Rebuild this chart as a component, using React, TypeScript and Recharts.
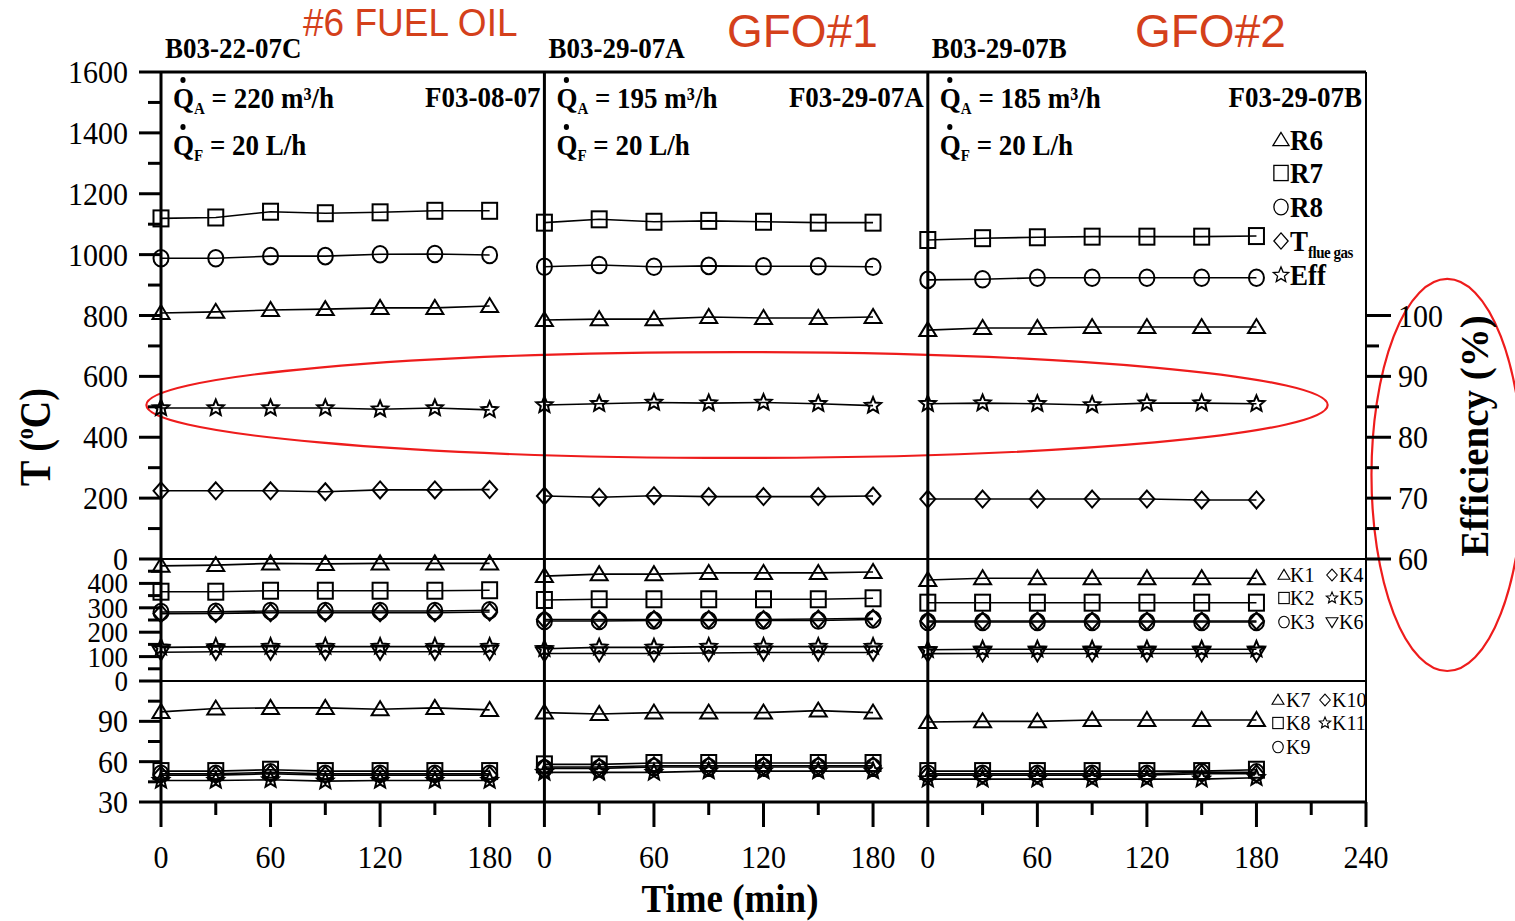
import React from 'react';
import { ComposedChart, Line, XAxis, YAxis, ReferenceLine, ReferenceArea } from 'recharts';

const W = 1515;
const H = 921;
const SERIF = '"Liberation Serif", "Times New Roman", serif';
const SANS = '"Liberation Sans", Arial, sans-serif';
const RED = '#d4401b';
const ELLIPSE = '#ee1c1c';

// each run is 0-180 min, runs are laid 210 min apart on one time axis
const times = [0, 30, 60, 90, 120, 150, 180];
const panelOffsets = [0, 210, 420];
const runIds = ['B03-22-07C', 'B03-29-07A', 'B03-29-07B'];
const fuelNames = ['#6 FUEL OIL', 'GFO#1', 'GFO#2'];
const flameIds = ['F03-08-07', 'F03-29-07A', 'F03-29-07B'];
const airFlow = [220, 195, 185];
const fuelFlow = [20, 20, 20];

// top panel: temperatures (°C), efficiency (%)
const R6 = [
  [808, 812, 818, 821, 825, 825, 831],
  [785, 788, 788, 795, 792, 792, 795],
  [752, 759, 759, 762, 762, 762, 762],
];
const R7 = [
  [1119, 1122, 1141, 1136, 1139, 1144, 1144],
  [1105, 1116, 1108, 1111, 1108, 1105, 1105],
  [1048, 1054, 1057, 1059, 1059, 1059, 1061],
];
const R8 = [
  [988, 988, 995, 995, 1001, 1002, 999],
  [960, 966, 960, 963, 962, 962, 960],
  [917, 919, 924, 924, 924, 924, 924],
];
const Tflue = [
  [224, 224, 224, 221, 227, 227, 228],
  [207, 203, 208, 205, 205, 205, 207],
  [197, 197, 197, 197, 197, 194, 194],
];
const Eff = [
  [84.8, 84.8, 84.8, 84.8, 84.6, 84.8, 84.5],
  [85.3, 85.5, 85.7, 85.6, 85.7, 85.5, 85.2],
  [85.5, 85.6, 85.5, 85.3, 85.6, 85.6, 85.5],
];

// middle panel: K1-K6 (°C)
const K1 = [
  [472, 475, 482, 480, 482, 482, 482],
  [430, 438, 438, 443, 443, 443, 447],
  [414, 421, 421, 421, 421, 421, 421],
];
const K2 = [
  [366, 366, 370, 370, 370, 370, 372],
  [332, 335, 335, 335, 335, 335, 339],
  [321, 321, 321, 321, 321, 321, 321],
];
const K3 = [
  [283, 284, 287, 287, 287, 287, 290],
  [246, 246, 248, 248, 248, 248, 252],
  [242, 242, 242, 242, 242, 242, 242],
];
const K4 = [
  [276, 277, 280, 280, 280, 280, 283],
  [252, 252, 252, 252, 252, 254, 257],
  [246, 246, 246, 246, 246, 246, 246],
];
const K5 = [
  [138, 140, 141, 141, 141, 141, 141],
  [132, 138, 138, 141, 141, 141, 141],
  [128, 130, 130, 130, 130, 130, 130],
];
const K6 = [
  [118, 120, 120, 120, 120, 120, 120],
  [113, 113, 113, 115, 117, 117, 117],
  [112, 113, 113, 113, 113, 113, 113],
];

// bottom panel: K7-K11 (°C)
const K7 = [
  [97, 99.5, 100, 100, 99, 100, 98.5],
  [96.5, 95.5, 96.5, 96.5, 96.5, 98, 96.5],
  [89.5, 90, 90, 91, 91, 91, 91],
];
const K8 = [
  [53, 53, 54, 53, 53, 53, 53],
  [58, 58, 59, 59, 59, 59, 59],
  [53, 53, 53, 53, 53, 53, 54],
];
const K9 = [
  [51, 51, 52, 51, 51, 51, 51],
  [55, 55, 56, 56, 56, 56, 56],
  [51, 51, 51, 51, 51, 52, 52],
];
const K10 = [
  [50, 50, 51, 50, 50, 50, 50],
  [56, 56, 57, 57, 57, 57, 57],
  [50, 50, 50, 50, 50, 51, 51],
];
const K11 = [
  [46, 46, 46.5, 45.5, 46, 46, 46],
  [52, 52, 52, 53, 53, 53, 53],
  [47, 47, 47, 47, 47, 47, 48],
];

type Shape = 'tri' | 'dtri' | 'sq' | 'circ' | 'dia' | 'star';

function buildRows(series: Record<string, number[][]>) {
  const rows: Record<string, number>[] = [];
  panelOffsets.forEach((off, p) => {
    times.forEach((t, i) => {
      const row: Record<string, number> = { x: off + t };
      Object.keys(series).forEach((k) => {
        row[k] = series[k][p][i];
      });
      rows.push(row);
    });
    // empty row so the lines break between runs
    if (p < panelOffsets.length - 1) rows.push({ x: off + 195 });
  });
  return rows;
}

const topRows = buildRows({ R6, R7, R8, TF: Tflue, EFF: Eff });
const midRows = buildRows({ K1, K2, K3, K4, K5, K6 });
const botRows = buildRows({ K7, K8, K9, K10, K11 });

const xTicks = panelOffsets.flatMap((off, p) =>
  (p === panelOffsets.length - 1 ? [...times, 210, 240] : times).map((t) => off + t)
);

const Marker = ({ shape, cx, cy, k = 1, sw = 2 }: { shape: Shape; cx: number; cy: number; k?: number; sw?: number }) => {
  const common = { fill: 'none', stroke: '#000', strokeWidth: sw };
  switch (shape) {
    case 'tri':
      return <polygon {...common} points={`${cx},${cy - 8 * k} ${cx - 8.5 * k},${cy + 6 * k} ${cx + 8.5 * k},${cy + 6 * k}`} />;
    case 'dtri':
      return <polygon {...common} points={`${cx - 8.5 * k},${cy - 6 * k} ${cx + 8.5 * k},${cy - 6 * k} ${cx},${cy + 8 * k}`} />;
    case 'sq':
      return <rect {...common} x={cx - 7.5 * k} y={cy - 8 * k} width={15 * k} height={16 * k} />;
    case 'circ':
      return <ellipse {...common} cx={cx} cy={cy} rx={7.5 * k} ry={8.3 * k} />;
    case 'dia':
      return <polygon {...common} points={`${cx},${cy - 8.5 * k} ${cx + 7.5 * k},${cy} ${cx},${cy + 8.5 * k} ${cx - 7.5 * k},${cy}`} />;
    default: {
      const pts: string[] = [];
      for (let i = 0; i < 10; i++) {
        const a = (-90 + i * 36) * (Math.PI / 180);
        const r = (i % 2 ? 3.8 : 8.5) * k;
        pts.push(`${cx + r * Math.cos(a)},${cy + r * Math.sin(a)}`);
      }
      return <polygon {...common} points={pts.join(' ')} />;
    }
  }
};

const dotOf = (shape: Shape) => (props: any) => {
  const { cx, cy, index } = props;
  if (typeof cx !== 'number' || typeof cy !== 'number' || isNaN(cy)) return <g key={`d-${index}`} />;
  return (
    <g key={`d-${index}`}>
      <Marker shape={shape} cx={cx} cy={cy} />
    </g>
  );
};

const leftTick = (isMajor: (v: number) => boolean, hasLabel: (v: number) => boolean, size = 30) => (props: any) => {
  const { x, y, payload } = props;
  const v = payload.value;
  return (
    <g>
      <line x1={x - (isMajor(v) ? 22 : 13)} x2={x} y1={y} y2={y} stroke="#000" strokeWidth={3} />
      {hasLabel(v) && (
        <text
          transform={`translate(${x - 33},${y}) scale(1,1.08)`}
          dy="0.34em"
          textAnchor="end"
          fontFamily={SERIF}
          fontSize={size}
          fill="#000"
        >
          {v}
        </text>
      )}
    </g>
  );
};

const rightTick = (props: any) => {
  const { x, y, payload } = props;
  const v = payload.value;
  const major = v % 10 === 0;
  return (
    <g>
      <line x1={x} x2={x + (major ? 25 : 13)} y1={y} y2={y} stroke="#000" strokeWidth={3} />
      {major && (
        <text
          transform={`translate(${x + 32},${y}) scale(1,1.08)`}
          dy="0.34em"
          textAnchor="start"
          fontFamily={SERIF}
          fontSize={30}
          fill="#000"
        >
          {v}
        </text>
      )}
    </g>
  );
};

const timeTick = (props: any) => {
  const { x, y, payload } = props;
  const v = payload.value;
  const p = v >= panelOffsets[2] ? 2 : v >= panelOffsets[1] ? 1 : 0;
  const t = v - panelOffsets[p];
  const major = t % 60 === 0;
  return (
    <g>
      <line x1={x} x2={x} y1={y} y2={y + (major ? 25 : 13)} stroke="#000" strokeWidth={3} />
      {major && (
        <text
          transform={`translate(${x},${y + 66}) scale(1,1.08)`}
          textAnchor="middle"
          fontFamily={SERIF}
          fontSize={30}
          fill="#000"
        >
          {t}
        </text>
      )}
    </g>
  );
};

const ellipseShape = (p: any) => (
  <ellipse
    cx={p.x + p.width / 2}
    cy={p.y + p.height / 2}
    rx={Math.abs(p.width) / 2}
    ry={Math.abs(p.height) / 2}
    fill="none"
    stroke={ELLIPSE}
    strokeWidth={2.2}
  />
);

const seriesLines = (defs: { key: string; shape: Shape; axis?: string }[]) =>
  defs.map((d) => (
    <Line
      key={d.key}
      yAxisId={d.axis ?? 'left'}
      dataKey={d.key}
      type="linear"
      stroke="#000"
      strokeWidth={1.6}
      dot={dotOf(d.shape)}
      activeDot={false}
      isAnimationActive={false}
    />
  ));

const frame = { stroke: '#000', strokeWidth: 3 };
const thin = { stroke: '#000', strokeWidth: 2 };

const dividers = panelOffsets.slice(1).map((x) => (
  <ReferenceLine key={`div-${x}`} yAxisId="left" x={x} stroke="#000" strokeWidth={3} />
));

const Label = ({ x, y, size, children, anchor = 'start', weight = 'bold', sy = 1.12, family = SERIF, fill = '#000' }: any) => (
  <text
    transform={`translate(${x},${y}) scale(1,${sy})`}
    fontSize={size}
    fontFamily={family}
    fontWeight={weight}
    textAnchor={anchor}
    fill={fill}
  >
    {children}
  </text>
);

const FlowLabel = ({ x, y, sub, value }: { x: number; y: number; sub: string; value: string }) => (
  <g transform={`translate(${x},${y}) scale(1,1.12)`}>
    <circle cx={10} cy={-25} r={2.6} fill="#000" />
    <text fontFamily={SERIF} fontWeight="bold" fontSize={27} fill="#000">
      Q
      <tspan fontSize={15} dy={5}>{sub}</tspan>
      <tspan dy={-5}>{value}</tspan>
    </text>
  </g>
);

const topLegend: { shape: Shape; text: string; sub?: string; y: number }[] = [
  { shape: 'tri', text: 'R6', y: 140 },
  { shape: 'sq', text: 'R7', y: 173 },
  { shape: 'circ', text: 'R8', y: 207 },
  { shape: 'dia', text: 'T', sub: 'flue gas', y: 241 },
  { shape: 'star', text: 'Eff', y: 275 },
];
const midLegend: { shape: Shape; text: string; col: number; y: number }[] = [
  { shape: 'tri', text: 'K1', col: 0, y: 575 },
  { shape: 'dia', text: 'K4', col: 1, y: 575 },
  { shape: 'sq', text: 'K2', col: 0, y: 598 },
  { shape: 'star', text: 'K5', col: 1, y: 598 },
  { shape: 'circ', text: 'K3', col: 0, y: 622 },
  { shape: 'dtri', text: 'K6', col: 1, y: 622 },
];
const botLegend: { shape: Shape; text: string; col: number; y: number }[] = [
  { shape: 'tri', text: 'K7', col: 0, y: 700 },
  { shape: 'dia', text: 'K10', col: 1, y: 700 },
  { shape: 'sq', text: 'K8', col: 0, y: 723 },
  { shape: 'star', text: 'K11', col: 1, y: 723 },
  { shape: 'circ', text: 'K9', col: 0, y: 747 },
];

const layer: React.CSSProperties = { position: 'absolute', left: 0, top: 0 };

export default function App() {
  const panelX = panelOffsets.map((o) => 161 + (o * 1205) / 660);
  return (
    <div style={{ position: 'absolute', left: 0, top: 0, width: W, height: H, background: '#fff' }}>
      {/* top: reactor temperatures + efficiency */}
      <div style={layer}>
        <ComposedChart width={W} height={H} data={topRows} margin={{ top: 72, bottom: H - 559, left: 101, right: 89 }}>
          <XAxis dataKey="x" type="number" domain={[0, 660]} hide />
          <YAxis
            yAxisId="left"
            type="number"
            domain={[0, 1600]}
            ticks={Array.from({ length: 17 }, (_, i) => i * 100)}
            interval={0}
            width={60}
            tickSize={0}
            tickMargin={0}
            tickLine={false}
            axisLine={frame}
            tick={leftTick((v) => v % 200 === 0, (v) => v % 200 === 0)}
          />
          <YAxis
            yAxisId="eff"
            orientation="right"
            type="number"
            domain={[60, 140]}
            ticks={[60, 65, 70, 75, 80, 85, 90, 95, 100]}
            interval={0}
            width={60}
            tickSize={0}
            tickMargin={0}
            tickLine={false}
            axisLine={thin}
            tick={rightTick}
          />
          <ReferenceLine yAxisId="left" y={1600} {...frame} />
          <ReferenceLine yAxisId="left" y={0} {...thin} />
          {dividers}
          <ReferenceArea yAxisId="left" x1={-8} x2={639} y1={332} y2={680} ifOverflow="visible" shape={ellipseShape} />
          <ReferenceArea yAxisId="left" x1={663} x2={746} y1={-368} y2={920} ifOverflow="visible" shape={ellipseShape} />
          {seriesLines([
            { key: 'R7', shape: 'sq' },
            { key: 'R8', shape: 'circ' },
            { key: 'R6', shape: 'tri' },
            { key: 'EFF', shape: 'star', axis: 'eff' },
            { key: 'TF', shape: 'dia' },
          ])}
        </ComposedChart>
      </div>

      {/* middle: K1-K6 */}
      <div style={layer}>
        <ComposedChart width={W} height={H} data={midRows} margin={{ top: 559, bottom: H - 681, left: 101, right: 89 }}>
          <XAxis dataKey="x" type="number" domain={[0, 660]} hide />
          <YAxis
            yAxisId="left"
            type="number"
            domain={[0, 500]}
            ticks={[0, 50, 100, 150, 200, 250, 300, 350, 400, 450]}
            interval={0}
            width={60}
            tickSize={0}
            tickMargin={0}
            tickLine={false}
            axisLine={frame}
            tick={leftTick((v) => v % 100 === 0, (v) => v % 100 === 0, 27)}
          />
          <YAxis yAxisId="r" orientation="right" domain={[0, 1]} width={60} tick={false} tickLine={false} axisLine={thin} />
          <ReferenceLine yAxisId="left" y={0} {...thin} />
          {dividers}
          {seriesLines([
            { key: 'K1', shape: 'tri' },
            { key: 'K2', shape: 'sq' },
            { key: 'K3', shape: 'circ' },
            { key: 'K4', shape: 'dia' },
            { key: 'K5', shape: 'star' },
            { key: 'K6', shape: 'dtri' },
          ])}
        </ComposedChart>
      </div>

      {/* bottom: K7-K11 with time axis */}
      <div style={layer}>
        <ComposedChart width={W} height={H} data={botRows} margin={{ top: 681, bottom: H - 802 - 100, left: 101, right: 89 }}>
          <XAxis
            dataKey="x"
            type="number"
            domain={[0, 660]}
            ticks={xTicks}
            interval={0}
            height={100}
            tickSize={0}
            tickMargin={0}
            tickLine={false}
            axisLine={frame}
            tick={timeTick}
          />
          <YAxis
            yAxisId="left"
            type="number"
            domain={[30, 120]}
            ticks={[30, 45, 60, 75, 90, 105]}
            interval={0}
            width={60}
            tickSize={0}
            tickMargin={0}
            tickLine={false}
            axisLine={frame}
            tick={leftTick((v) => v % 30 === 0, (v) => v % 30 === 0)}
          />
          <YAxis yAxisId="r" orientation="right" domain={[0, 1]} width={60} tick={false} tickLine={false} axisLine={thin} />
          {dividers}
          {seriesLines([
            { key: 'K7', shape: 'tri' },
            { key: 'K8', shape: 'sq' },
            { key: 'K9', shape: 'circ' },
            { key: 'K10', shape: 'dia' },
            { key: 'K11', shape: 'star' },
          ])}
        </ComposedChart>
      </div>

      {/* titles, flow rates, legends and axis names */}
      <svg width={W} height={H} style={{ ...layer, pointerEvents: 'none' }}>
        {panelX.map((px, p) => (
          <g key={`run-${p}`}>
            <Label x={px + 4} y={58} size={27}>{runIds[p]}</Label>
            <Label x={(p < 2 ? panelX[p + 1] : 1366) - 4} y={107} size={27} anchor="end">
              {flameIds[p]}
            </Label>
            <FlowLabel x={px + 12} y={108} sub="A" value={` = ${airFlow[p]} m³/h`} />
            <FlowLabel x={px + 12} y={155} sub="F" value={` = ${fuelFlow[p]} L/h`} />
          </g>
        ))}
        <Label x={303} y={36} size={37} weight="normal" family={SANS} sy={1.05} fill={RED}>{fuelNames[0]}</Label>
        <Label x={727} y={47} size={46} weight="normal" family={SANS} sy={1.02} fill={RED}>{fuelNames[1]}</Label>
        <Label x={1135} y={47} size={46} weight="normal" family={SANS} sy={1.02} fill={RED}>{fuelNames[2]}</Label>

        {topLegend.map((l) => (
          <g key={l.text}>
            <Marker shape={l.shape} cx={1281} cy={l.y} k={0.95} sw={1.3} />
            <g transform={`translate(1290,${l.y + 10}) scale(1,1.1)`}>
              <text fontFamily={SERIF} fontWeight="bold" fontSize={27} fill="#000">
                {l.text}
                {l.sub && (
                  <tspan fontSize={15} dy={6} letterSpacing={-0.5}>
                    {l.sub}
                  </tspan>
                )}
              </text>
            </g>
          </g>
        ))}
        {midLegend.map((l) => (
          <g key={l.text}>
            <Marker shape={l.shape} cx={l.col ? 1332 : 1284} cy={l.y} k={0.7} sw={1.1} />
            <Label x={l.col ? 1339 : 1290} y={l.y + 7} size={20} weight="normal" sy={1.08}>{l.text}</Label>
          </g>
        ))}
        {botLegend.map((l) => (
          <g key={l.text}>
            <Marker shape={l.shape} cx={l.col ? 1325 : 1278} cy={l.y} k={0.7} sw={1.1} />
            <Label x={l.col ? 1332 : 1286} y={l.y + 7} size={20} weight="normal" sy={1.08}>{l.text}</Label>
          </g>
        ))}

        <g transform="translate(50,437) rotate(-90) scale(1,1.15)">
          <text fontFamily={SERIF} fontWeight="bold" fontSize={38} textAnchor="middle" fill="#000">
            T (<tspan fontSize={22} dy={-15}>o</tspan>
            <tspan dy={15}>C)</tspan>
          </text>
        </g>
        <g transform="translate(1488,436) rotate(-90)">
          <text fontFamily={SERIF} fontWeight="bold" fontSize={39} textAnchor="middle" fill="#000">
            Efficiency (%)
          </text>
        </g>
        <Label x={730} y={912} size={37} anchor="middle" sy={1.1}>Time (min)</Label>
      </svg>
    </div>
  );
}
